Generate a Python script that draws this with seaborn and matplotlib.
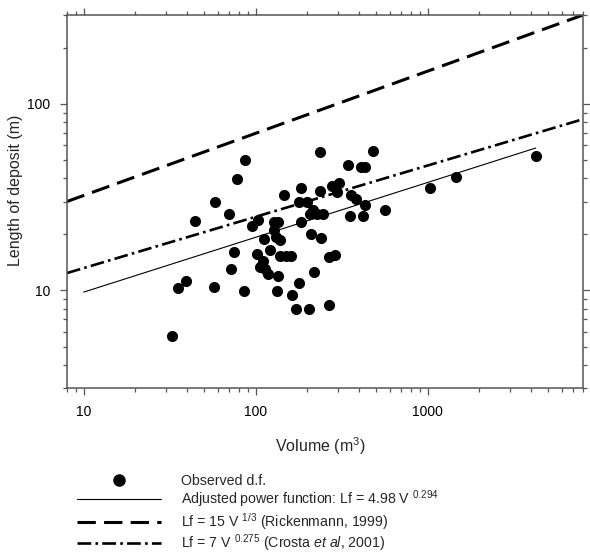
import matplotlib
matplotlib.use("Agg")
import matplotlib.pyplot as plt
import seaborn as sns
import numpy as np
import pandas as pd
from matplotlib.lines import Line2D
from matplotlib.ticker import LogLocator, NullFormatter, FixedLocator, FixedFormatter

# Observed debris-flow deposits: volume (m3) and length of deposit (m)
volume = [32.7, 35.5, 39.2, 44.2, 57.3, 57.8, 69.7, 72.2, 74.8, 77.9,
          86.3, 86.1, 95.7, 103.1, 102.3, 105.5, 110.3, 111.7, 112.8, 117.9,
          121.8, 127.3, 127.3, 135.2, 131.9, 137.9, 133.5, 134.8, 137.9, 150.8,
          161.3, 146.9, 162.2, 172.0, 179.1, 184.4, 177.8, 197.9, 184.4, 203.3,
          214.4, 206.1, 226.2, 245.2, 210.8, 240.3, 218.3, 237.1, 237.1, 266.8,
          266.8, 290.6, 278.5, 305.9, 295.8, 345.9, 352.0, 360.1, 385.1, 407.9,
          430.3, 430.3, 422.8, 480.8, 564.7, 1037, 1455, 4246]
length = [5.73, 10.3, 11.2, 23.7, 10.4, 29.8, 25.7, 13.1, 16.0, 39.8,
          50.0, 9.94, 22.2, 23.9, 15.6, 13.4, 14.35, 18.8, 13.1, 12.2,
          16.4, 21.1, 23.4, 23.4, 19.4, 18.6, 9.94, 12.0, 15.3, 15.3,
          15.3, 32.7, 9.46, 7.92, 11.0, 35.5, 30.0, 29.9, 23.2, 7.92,
          27.1, 25.7, 25.7, 25.7, 20.1, 19.0, 12.6, 55.5, 34.3, 8.37,
          15.1, 15.5, 36.2, 37.9, 33.7, 46.8, 25.0, 32.6, 30.9, 46.1,
          46.1, 28.8, 25.0, 56.2, 27.0, 35.3, 40.7, 52.5]

# Power laws Lf = a * V^b, with the volume range each is drawn over
fit_coef, fit_exp, fit_range = 4.98, 0.294, [10, 4246]
rick_coef, rick_exp, rick_range = 15, 1 / 3, [8, 8000]
crosta_coef, crosta_exp, crosta_range = 7, 0.275, [8, 8000]

legend_labels = [
    "Observed d.f.",
    r"Adjusted power function: Lf = 4.98 V $^{0.294}$",
    r"Lf = 15 V $^{1/3}$ (Rickenmann, 1999)",
    r"Lf = 7 V $^{0.275}$ (Crosta $et\ al$, 2001)",
]
x_ticks = [10, 100, 1000]
y_ticks = [10, 100]

sns.set_style("ticks")
plt.rcParams["font.family"] = ["Liberation Sans", "DejaVu Sans"]
plt.rcParams["mathtext.fontset"] = "custom"
plt.rcParams["mathtext.rm"] = "Liberation Sans"
plt.rcParams["mathtext.it"] = "Liberation Sans:italic"
plt.rcParams["mathtext.sf"] = "Liberation Sans"

fig = plt.figure(figsize=(5.9, 5.55), dpi=100)
ax = fig.add_axes([67 / 590, 1 - 388 / 555, 516 / 590, 373 / 555])

def law(coef, exp, rng):
    v = np.array(rng, dtype=float)
    return pd.DataFrame({"V": v, "L": coef * v ** exp})

fit_df = law(fit_coef, fit_exp, fit_range)
rick_df = law(rick_coef, rick_exp, rick_range)
cro_df = law(crosta_coef, crosta_exp, crosta_range)

sns.lineplot(data=fit_df, x="V", y="L", ax=ax, color="black", lw=0.8)
sns.lineplot(data=rick_df, x="V", y="L", ax=ax, color="black", lw=2.2)
ax.lines[-1].set_dashes((6, 2.7))
sns.lineplot(data=cro_df, x="V", y="L", ax=ax, color="black", lw=1.9)
ax.lines[-1].set_dashes((5.2, 1.6, 1.0, 1.6))

obs = pd.DataFrame({"V": volume, "L": length})
sns.scatterplot(data=obs, x="V", y="L", ax=ax, color="black", s=64,
                edgecolor="black", linewidth=0, zorder=3)

ax.set_xscale("log")
ax.set_yscale("log")
ax.set_xlim(8, 8000)
ax.set_ylim(3, 300)

ax.xaxis.set_major_locator(FixedLocator(x_ticks))
ax.xaxis.set_major_formatter(FixedFormatter([str(t) for t in x_ticks]))
ax.yaxis.set_major_locator(FixedLocator(y_ticks))
ax.yaxis.set_major_formatter(FixedFormatter([str(t) for t in y_ticks]))
ax.xaxis.set_minor_locator(LogLocator(base=10, subs=np.arange(2, 10)))
ax.yaxis.set_minor_locator(LogLocator(base=10, subs=np.arange(2, 10)))
ax.xaxis.set_minor_formatter(NullFormatter())
ax.yaxis.set_minor_formatter(NullFormatter())

frame_col = "#555555"
for s in ax.spines.values():
    s.set_visible(True)
    s.set_color(frame_col)
    s.set_linewidth(1.1)
ax.tick_params(which="both", direction="out", top=True, right=True,
               color=frame_col, width=0.9, labelsize=10, labelcolor="black")
ax.tick_params(which="major", length=5, pad=7)
ax.tick_params(which="minor", length=3)

ax.set_xlabel("Volume (m$^{3}$)", fontsize=11.5)
ax.set_ylabel("Length of deposit (m)", fontsize=11.5)
ax.xaxis.set_label_coords(0.49, -0.128)
ax.yaxis.set_label_coords(-0.085, 0.53)

handles = [
    Line2D([], [], color="black", marker="o", markersize=8, linestyle="none"),
    Line2D([], [], color="black", lw=0.8),
    Line2D([], [], color="black", lw=2.2, dashes=(6, 2.7)),
    Line2D([], [], color="black", lw=1.9, dashes=(5.2, 1.6, 1.0, 1.6)),
]
fig.legend(handles, legend_labels, loc="upper left",
           bbox_to_anchor=(77 / 590, 1 - 474 / 555), frameon=False,
           fontsize=10.2, handlelength=5.9, handletextpad=1.45,
           handleheight=0.6, labelspacing=0.04, borderpad=0, borderaxespad=0)

fig.savefig("out.png", dpi=100)
